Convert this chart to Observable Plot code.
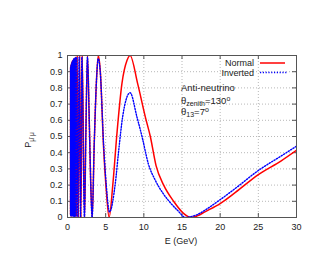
<!DOCTYPE html>
<html><head><meta charset="utf-8">
<script src="https://cdn.jsdelivr.net/npm/d3@7"></script>
<script src="https://cdn.jsdelivr.net/npm/@observablehq/plot@0.6"></script>
<style>body{margin:0;background:#fff}#c{width:312px;height:273px}</style>
</head><body><div id="c"></div>
<script>
const xTicks = [0, 5, 10, 15, 20, 25, 30];
const yTicks = [0, 0.1, 0.2, 0.3, 0.4, 0.5, 0.6, 0.7, 0.8, 0.9, 1];
const seriesNames = ["Normal", "Inverted"];
const annotationLines = ["Anti-neutrino", "θzenith=130°", "θ13=7°"];

const normalE = [0.40,0.41,0.42,0.43,0.44,0.45,0.46,0.47,0.485,0.50,0.515,0.53,0.545,0.56,0.58,0.60,0.62,0.64,0.665,0.69,0.72,0.75,0.79,0.83,0.88,0.93,1.00,1.07,1.16,1.27,1.43,1.60,1.76,1.93,2.23,2.40,2.62,2.85,3.05,3.24,3.50,3.80,4.03,4.29,4.73,5.08,5.45,5.95,6.48,7.13,7.80,8.20,9.19,10.2,10.85,11.6,12.6,13.9,15.2,16.2,17,18,20,22,25,28,30];
const normalP = [0.02,0.93,0.01,0.93,0.01,0.94,0.01,0.94,0.01,0.95,0.01,0.95,0.01,0.96,0.01,0.96,0.01,0.97,0.01,0.97,0.01,0.975,0.01,0.98,0.005,0.985,0.005,0.99,0.005,1.0,0.0,1.0,0.0,1.0,0.0,0.5,1.0,0.6,0.2,0.0,0.45,0.85,1.0,0.91,0.43,0.17,0.0,0.21,0.52,0.826,0.97,1.0,0.826,0.62,0.5,0.32,0.2,0.1,0.025,0,0.01,0.035,0.086,0.155,0.265,0.35,0.415];

const invertedE = [0.40,0.405,0.415,0.425,0.435,0.445,0.455,0.465,0.478,0.492,0.507,0.522,0.537,0.552,0.57,0.59,0.61,0.63,0.652,0.677,0.705,0.735,0.77,0.81,0.855,0.905,0.965,1.035,1.115,1.21,1.35,1.52,1.70,1.88,2.22,2.40,2.61,2.85,3.05,3.22,3.50,3.80,4.03,4.29,4.73,5.08,5.5,6.26,6.7,7.22,7.8,8.2,9.1,9.76,10.6,11.5,12.5,13.5,14.5,15.45,16,17,18,20,22,25,28,30];
const invertedP = [0.02,0.92,0.01,0.93,0.01,0.93,0.01,0.94,0.01,0.94,0.01,0.95,0.01,0.95,0.01,0.96,0.01,0.96,0.01,0.97,0.01,0.97,0.01,0.98,0.005,0.98,0.005,0.99,0.005,0.99,0.0,0.99,0.0,0.99,0.0,0.5,0.99,0.6,0.2,0.0,0.45,0.85,0.98,0.9,0.45,0.2,0.035,0.21,0.41,0.62,0.745,0.77,0.62,0.5,0.33,0.23,0.15,0.09,0.04,0,0.004,0.018,0.045,0.11,0.18,0.29,0.38,0.44];

const normal = normalE.map((e, i) => ({E: e, P: normalP[i]}));
const inverted = invertedE.map((e, i) => ({E: e, P: invertedP[i]}));

const font = "'Liberation Sans', Arial, sans-serif";
const ink = "#222";
const blueDash = "1.2,1.6";

const chart = Plot.plot({
  width: 312, height: 273,
  marginLeft: 67, marginRight: 16, marginTop: 55, marginBottom: 56,
  style: {fontFamily: font, fontSize: "9px", color: ink, background: "#fff"},
  x: {domain: [0, 30]},
  y: {domain: [0, 1]},
  marks: [
    Plot.gridX(xTicks, {stroke: "#888", strokeOpacity: 0.6, strokeDasharray: "1,2"}),
    Plot.gridY(yTicks, {stroke: "#888", strokeOpacity: 0.6, strokeDasharray: "1,2"}),
    Plot.axisX(xTicks, {tickSize: 0, tickPadding: 6, label: null, fill: ink}),
    Plot.axisY(yTicks, {tickSize: 0, tickPadding: 5, label: null, fill: ink, tickFormat: d => String(+d.toFixed(1))}),
    Plot.tickX(xTicks, {x: d => d, insetTop: 158, stroke: "#555"}),
    Plot.tickX(xTicks, {x: d => d, insetBottom: 158, stroke: "#555"}),
    Plot.tickY(yTicks, {y: d => d, insetRight: 225, stroke: "#555"}),
    Plot.tickY(yTicks, {y: d => d, insetLeft: 225, stroke: "#555"}),
    Plot.line(normal, {x: "E", y: "P", stroke: "#ff0000", strokeWidth: 1.5, curve: "monotone-x", clip: true}),
    Plot.line(inverted, {x: "E", y: "P", stroke: "#0000ff", strokeWidth: 1.4, strokeDasharray: blueDash, curve: "monotone-x", clip: true}),
    Plot.frame({stroke: "#555"})
  ]
});
document.getElementById("c").appendChild(chart);

const svg = d3.select(chart);
function txt(x, y, anchor, size = 9) {
  return svg.append("text").attr("x", x).attr("y", y).attr("text-anchor", anchor)
    .attr("font-family", font).attr("font-size", size).attr("fill", ink);
}
// axis title
txt(181, 244, "middle").text("E (GeV)");
// y title with subscript
const yl = svg.append("text").attr("transform", "translate(31,140) rotate(-90)")
  .attr("text-anchor", "middle").attr("font-family", font).attr("font-size", 9).attr("fill", ink);
yl.append("tspan").text("P");
yl.append("tspan").attr("font-size", 6.5).attr("dy", 2.5).text("\u03BC\u0304 \u03BC");

// legend
txt(254, 66, "end").text(seriesNames[0]);
txt(254, 76, "end").text(seriesNames[1]);
svg.append("line").attr("x1", 260).attr("x2", 285).attr("y1", 63).attr("y2", 63)
  .attr("stroke", "#ff0000").attr("stroke-width", 1.5);
svg.append("line").attr("x1", 260).attr("x2", 287).attr("y1", 72.5).attr("y2", 72.5)
  .attr("stroke", "#0000ff").attr("stroke-width", 1.4).attr("stroke-dasharray", blueDash);

// annotation
txt(181, 91, "start", 9.5).text(annotationLines[0]);
const a2 = txt(181, 104, "start", 9.5);
a2.append("tspan").text("θ");
a2.append("tspan").attr("font-size", 7).attr("dy", 2).text("zenith");
a2.append("tspan").attr("dy", -2).text("=130");
a2.append("tspan").attr("font-size", 7).attr("dy", -3.5).text("o");
const a3 = txt(181, 115, "start", 9.5);
a3.append("tspan").text("θ");
a3.append("tspan").attr("font-size", 7).attr("dy", 2).text("13");
a3.append("tspan").attr("dy", -2).text("=7");
a3.append("tspan").attr("font-size", 7).attr("dy", -3.5).text("o");
</script>
</body></html>
